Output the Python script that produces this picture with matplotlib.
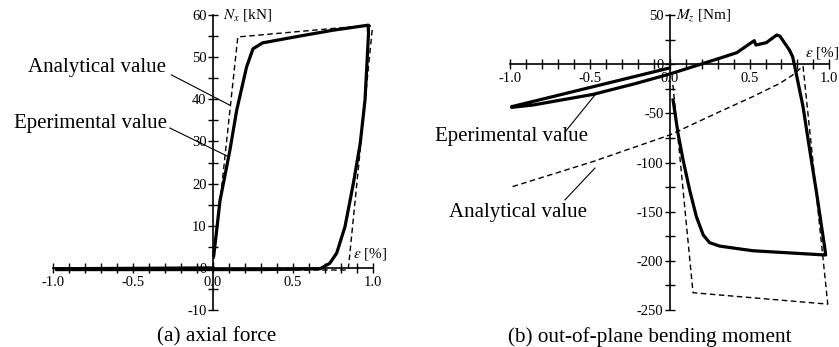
import matplotlib
matplotlib.use("Agg")
import matplotlib.pyplot as plt
import numpy as np
from matplotlib.ticker import MultipleLocator, FixedLocator, FixedFormatter

plt.rcParams['font.family'] = ['Liberation Serif', 'DejaVu Serif']
plt.rcParams['mathtext.fontset'] = 'stix'
plt.rcParams['axes.unicode_minus'] = False

# ---------------- data: (a) axial force ----------------
exp_a_x = [0.005, 0.044, 0.106, 0.148, 0.21, 0.25, 0.31, 0.54, 0.75, 0.97,
           0.972, 0.95, 0.92, 0.877, 0.825, 0.773, 0.73, 0.67, 0.3, -0.98, -0.98, 0.0]
exp_a_y = [3, 16, 28, 37.4, 47.7, 52, 53.4, 55, 56.4, 57.6,
           55.6, 39.8, 29.5, 20, 9.8, 3.5, 1.1, -0.2, -0.4, -0.4, -0.2, 0]
ana_a_x = [0.0, 0.155, 0.98, 0.995, 0.845, -0.98]
ana_a_y = [0, 54.8, 57.6, 56.5, -0.5, -0.5]

# ---------------- data: (b) out-of-plane bending moment ----------------
exp_b_x = [0.021, 0.052, 0.084, 0.125, 0.167, 0.21, 0.25, 0.313, 0.52, 0.97, 0.977,
           0.97, 0.92, 0.877, 0.835, 0.79, 0.77, 0.75, 0.69, 0.67, 0.605, 0.54, 0.53,
           0.52, 0.42, 0.31, 0.21, 0.0, -0.21, -0.48, -0.856, -0.99, -0.99, -0.01]
exp_b_y = [-36.4, -70.3, -97.5, -128, -155, -173.7, -181.5, -185, -189.7, -194, -194,
           -185.6, -131, -87.3, -43.2, -7.6, 7.6, 14.4, 28.6, 29.7, 21.9, 19.5, 23.9,
           22.9, 11.7, 5.9, 0.8, -10, -19.5, -30.7, -41.5, -43.9, -43.2, -4.2]
ana_b_x = [0.02, 0.146, 0.99, 0.835, 0.77, 0.69, 0.52, 0.313, 0.0, -0.48, -1.0]
ana_b_y = [-21, -232.4, -244, -2, -11, -19.5, -33, -48.3, -72, -99, -125.3]

x_major = [-1.0, -0.5, 0.0, 0.5, 1.0]
x_labels = ['-1.0', '-0.5', '0.0', '0.5', '1.0']
x_minor = [round(v, 1) for v in np.arange(-1.0, 1.01, 0.1)]
ya_major = [-10, 0, 10, 20, 30, 40, 50, 60]
ya_minor = list(range(-10, 61, 5))
yb_major = [-250, -200, -150, -100, -50, 0, 50]
yb_minor = list(range(-250, 51, 25))

W, H = 839, 347
fig = plt.figure(figsize=(W / 100, H / 100), dpi=100)


def make_axes(x0px, y0px, sx, sy, xlim, ylim):
    left = x0px + xlim[0] * sx
    width = (xlim[1] - xlim[0]) * sx
    top = y0px - ylim[1] * sy
    bottom = y0px - ylim[0] * sy
    ax = fig.add_axes([left / W, (H - bottom) / H, width / W, (bottom - top) / H])
    ax.set_xlim(*xlim)
    ax.set_ylim(*ylim)
    ax.patch.set_visible(False)
    for s in ['top', 'right']:
        ax.spines[s].set_visible(False)
    ax.spines['left'].set_position(('data', 0))
    ax.spines['bottom'].set_position(('data', 0))
    for s in ['left', 'bottom']:
        ax.spines[s].set_linewidth(1.2)
    return ax


def style_ticks(ax, ymaj, ymin, ybounds):
    ax.xaxis.set_major_locator(FixedLocator(x_major))
    ax.xaxis.set_major_formatter(FixedFormatter(x_labels))
    ax.xaxis.set_minor_locator(FixedLocator(x_minor))
    ax.yaxis.set_major_locator(FixedLocator(ymaj))
    ax.yaxis.set_minor_locator(FixedLocator(ymin))
    ax.tick_params(which='both', direction='inout', length=7, width=1.0, labelsize=10.5)
    ax.tick_params(axis='x', pad=2)
    ax.tick_params(axis='y', pad=1)
    ax.spines['bottom'].set_bounds(-1.0, 1.0)
    ax.spines['left'].set_bounds(*ybounds)


def leader(ax, label, text_xy, p0, p1, fs=15):
    ax.text(text_xy[0], text_xy[1], label, fontsize=fs, ha='right', va='center')
    ax.plot([p0[0], p1[0]], [p0[1], p1[1]], color='black', lw=0.8, clip_on=False)


# ---- (a) ----
ax1 = make_axes(213, 267.9, 160, 4.214, (-1.1, 1.1), (-12, 62))
style_ticks(ax1, ya_major, ya_minor, (-10, 60))
ax1.plot(ana_a_x, ana_a_y, color='black', lw=1.0, ls=(0, (4, 2.5)))
ax1.plot(exp_a_x, exp_a_y, color='black', lw=2.3, solid_joinstyle='round')
ax1.text(0.06, 60, r'$N_x$ [kN]', fontsize=11, va='center', ha='left')
ax1.text(0.875, 3.3, r'$\varepsilon$ [%]', fontsize=11, va='center', ha='left')
leader(ax1, 'Analytical value', (-0.295, 47.5), (-0.26, 45.8), (0.106, 38.6))
leader(ax1, 'Eperimental value', (-0.285, 34.3), (-0.27, 33.2), (0.096, 26.4))

# ---- (b) ----
ax2 = make_axes(669.7, 64.2, 159.67, 0.9833, (-1.1, 1.06), (-262, 60))
style_ticks(ax2, yb_major, yb_minor, (-250, 50))
ax2.plot(ana_b_x, ana_b_y, color='black', lw=1.0, ls=(0, (4, 2.5)))
ax2.plot(exp_b_x, exp_b_y, color='black', lw=2.3, solid_joinstyle='round')
ax2.text(0.04, 50, r'$M_z$ [Nm]', fontsize=11, va='center', ha='left')
ax2.text(0.845, 11.4, r'$\varepsilon$ [%]', fontsize=11, va='center', ha='left')
leader(ax2, 'Eperimental value', (-0.51, -74), (-0.656, -69), (-0.468, -31.3))
leader(ax2, 'Analytical value', (-0.52, -151), (-0.656, -138), (-0.468, -105.6))

fig.text(216.7 / W, 1 - 337 / H, '(a) axial force', fontsize=15.3, ha='center', va='center')
fig.text(650 / W, 1 - 337 / H, '(b) out-of-plane bending moment', fontsize=15.3,
         ha='center', va='center')

fig.savefig('out.png', dpi=100)
